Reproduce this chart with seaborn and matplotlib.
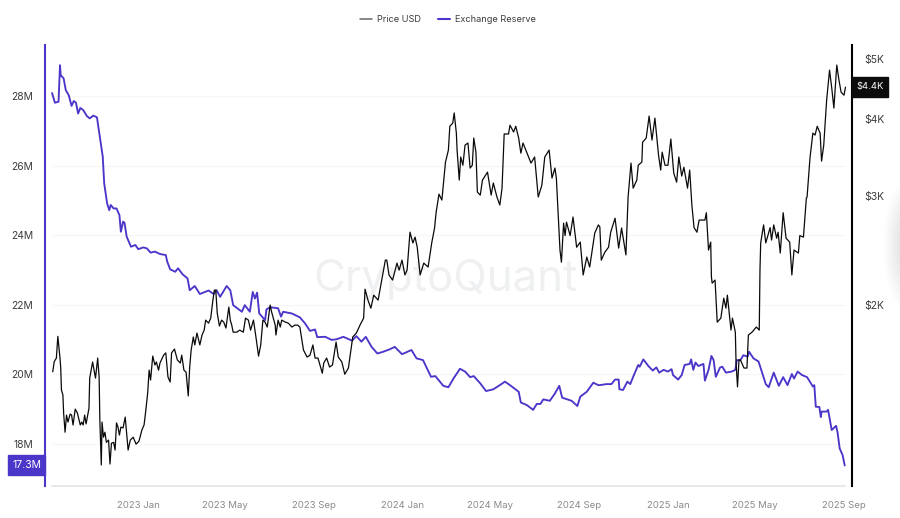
# Exchange reserve vs price chart
import matplotlib
matplotlib.use("Agg")
import matplotlib.pyplot as plt
import matplotlib.dates as mdates
from matplotlib.lines import Line2D
from matplotlib.patches import Ellipse, Rectangle
from matplotlib.ticker import NullLocator
import pandas as pd
import seaborn as sns

# days counted from this date
start_date = "2022-09-04"

price_days = [1, 3, 6, 8, 11, 12, 13, 15, 16, 18, 20, 22, 25, 27, 29, 32, 35, 39, 41, 43, 45, 47, 51, 52, 56, 60, 63, 65, 66, 68, 69,
              71, 73, 75, 78, 80, 82, 85, 87, 89, 91, 93, 95, 98, 101, 105, 108, 112, 116, 120, 124, 127, 129, 132, 134, 136, 139,
              142, 144, 147, 149, 154, 157, 160, 163, 165, 169, 173, 177, 179, 182, 185, 188, 190, 192, 195, 197, 200, 204, 207,
              210, 212, 216, 219, 222, 224, 226, 228, 231, 234, 237, 240, 242, 244, 246, 248, 250, 255, 259, 264, 267, 271, 274,
              278, 282, 285, 288, 291, 294, 297, 301, 303, 308, 309, 312, 315, 317, 322, 326, 331, 335, 339, 342, 347, 349, 352,
              356, 360, 363, 367, 373, 375, 379, 383, 387, 392, 395, 400, 404, 409, 412, 415, 420, 425, 430, 432, 436, 440, 444,
              450, 455, 460, 462, 465, 470, 476, 479, 483, 487, 490, 494, 498, 501, 504, 508, 513, 519, 524, 528, 530, 534, 538,
              543, 547, 549, 553, 555, 558, 559, 562, 564, 567, 570, 574, 577, 580, 582, 585, 587, 591, 594, 601, 606, 609, 614,
              618, 621, 624, 630, 632, 637, 640, 644, 647, 650, 655, 661, 666, 671, 676, 680, 686, 690, 694, 696, 701, 703, 706,
              708, 710, 715, 719, 724, 729, 733, 738, 742, 749, 754, 756, 758, 763, 768, 771, 777, 782, 786, 792, 795, 799, 802,
              807, 809, 814, 815, 820, 824, 828, 832, 837, 840, 842, 846, 850, 854, 858, 862, 865, 869, 872, 877, 880, 883, 886,
              890, 893, 901, 903, 906, 909, 910, 911, 915, 918, 923, 927, 930, 932, 937, 939, 943, 944, 946, 948, 950, 955, 959,
              961, 966, 972, 976, 977, 978, 982, 985, 991, 993, 996, 1000, 1002, 1005, 1009, 1013, 1018, 1021, 1024, 1030, 1032,
              1037, 1041, 1042, 1046, 1050, 1053, 1056, 1060, 1062, 1065, 1069, 1073, 1076, 1079, 1083, 1086, 1089, 1093, 1095]
price_usd = [1560, 1620, 1642, 1780, 1642, 1582, 1458, 1431, 1338, 1246, 1328, 1294, 1333, 1328, 1280, 1358, 1338, 1280, 1294, 1280,
             1328, 1285, 1363, 1524, 1618, 1524, 1642, 1530, 1304, 1103, 1294, 1223, 1246, 1200, 1210, 1107, 1196, 1200, 1166, 1290,
             1270, 1233, 1270, 1266, 1318, 1166, 1210, 1223, 1192, 1205, 1256, 1280, 1338, 1442, 1570, 1513, 1654, 1600, 1618, 1570,
             1612, 1660, 1674, 1530, 1502, 1674, 1698, 1630, 1612, 1660, 1570, 1558, 1426, 1588, 1692, 1776, 1724, 1802, 1724, 1789,
             1822, 1891, 1870, 1905, 2037, 2114, 2114, 1941, 1850, 1891, 1877, 1836, 1912, 1985, 1891, 1856, 1808, 1808, 1822, 1808,
             1905, 1891, 1822, 1891, 1756, 1654, 1724, 1891, 1877, 1843, 2000, 1950, 1856, 1789, 1891, 1843, 1891, 1877, 1870, 1843,
             1856, 1856, 1843, 1692, 1674, 1648, 1660, 1724, 1642, 1642, 1552, 1612, 1642, 1588, 1600, 1743, 1648, 1618, 1546, 1582,
             1674, 1776, 1802, 1856, 1905, 2122, 2037, 1977, 2075, 2037, 2195, 2364, 2364, 2237, 2195, 2338, 2278, 2364, 2237, 2278,
             2623, 2520, 2575, 2480, 2237, 2338, 2304, 2520, 2668, 2820, 3022, 2956, 3405, 3560, 3890, 3936, 4088, 3792, 3560, 3184,
             3470, 3365, 3627, 3655, 3330, 3365, 3723, 3533, 3045, 3011, 3184, 3280, 3011, 3150, 2990, 2902, 3090, 3780, 3780, 3905,
             3808, 3890, 3723, 3520, 3655, 3533, 3392, 3470, 2990, 3125, 3470, 3560, 3208, 3330, 3208, 2454, 2346, 2713, 2590, 2723,
             2590, 2775, 2480, 2528, 2237, 2391, 2304, 2615, 2695, 2675, 2364, 2436, 2480, 2623, 2763, 2472, 2664, 2410, 2990, 3392,
             3090, 3184, 3365, 3405, 3666, 3723, 4040, 3695, 4010, 3495, 3305, 3533, 3365, 3365, 3710, 3268, 3160, 3470, 3232, 3340,
             3090, 3305, 2902, 2668, 2623, 2744, 2744, 2820, 2454, 2528, 2220, 2170, 2195, 1877, 1905, 2052, 1977, 2075, 1822, 1905,
             1808, 1612, 1475, 1630, 1630, 1582, 1582, 1789, 1808, 1843, 1822, 2278, 2520, 2695, 2520, 2668, 2547, 2695, 2565, 2623,
             2427, 2820, 2565, 2528, 2237, 2454, 2427, 2590, 2575, 2978, 2990, 3456, 3792, 3765, 3890, 3792, 3417, 3627, 4288, 4794,
             4490, 4163, 4885, 4619, 4415, 4368, 4500]

reserve_days = [0, 4, 9, 11, 12, 16, 19, 23, 27, 30, 33, 36, 39, 43, 48, 52, 57, 62, 66, 70, 72, 76, 79, 81, 85, 89, 93, 95, 98, 100,
                103, 109, 115, 119, 126, 131, 136, 142, 149, 157, 159, 163, 170, 174, 180, 187, 190, 197, 204, 216, 223, 227, 232,
                241, 246, 250, 262, 266, 273, 277, 280, 283, 286, 294, 296, 301, 312, 316, 319, 331, 340, 342, 349, 356, 363, 366,
                377, 386, 393, 402, 414, 420, 427, 433, 441, 449, 457, 466, 473, 483, 496, 503, 512, 523, 529, 540, 547, 554, 563,
                570, 577, 582, 591, 599, 609, 618, 625, 632, 644, 647, 655, 664, 669, 674, 678, 687, 694, 700, 704, 717, 725, 729,
                738, 747, 754, 756, 765, 772, 777, 782, 783, 788, 794, 798, 802, 809, 811, 816, 823, 829, 834, 838, 844, 850, 855,
                857, 864, 869, 873, 880, 882, 885, 888, 892, 899, 901, 906, 910, 913, 916, 922, 925, 930, 938, 943, 945, 950, 954,
                960, 962, 968, 975, 981, 985, 989, 996, 1003, 1009, 1015, 1021, 1024, 1029, 1035, 1042, 1050, 1052, 1054, 1059,
                1061, 1062, 1069, 1071, 1076, 1082, 1084, 1087, 1091, 1094]
reserve_m = [28.09, 27.81, 27.84, 28.89, 28.60, 28.51, 28.17, 28.03, 27.72, 27.86, 27.81, 27.50, 27.66, 27.60, 27.43, 27.36, 27.44,
             27.39, 26.83, 26.26, 25.49, 24.92, 24.72, 24.87, 24.77, 24.77, 24.58, 24.10, 24.39, 24.36, 23.96, 23.67, 23.72, 23.60,
             23.65, 23.62, 23.50, 23.53, 23.46, 23.43, 23.24, 23.02, 22.95, 23.05, 22.88, 22.76, 22.42, 22.54, 22.31, 22.41, 22.31,
             22.42, 22.23, 22.54, 22.42, 21.99, 21.80, 21.99, 21.80, 22.37, 22.18, 22.35, 21.75, 21.56, 21.87, 21.93, 21.90, 21.66,
             21.80, 21.75, 21.66, 21.64, 21.47, 21.25, 21.29, 21.07, 21.08, 20.99, 21.01, 21.08, 20.97, 21.10, 20.94, 21.08, 20.79,
             20.60, 20.65, 20.72, 20.79, 20.58, 20.70, 20.46, 20.41, 19.93, 19.95, 19.67, 19.63, 19.88, 20.16, 20.08, 19.92, 19.95,
             19.74, 19.52, 19.57, 19.69, 19.79, 19.69, 19.50, 19.19, 19.12, 18.98, 19.15, 19.15, 19.28, 19.24, 19.45, 19.67, 19.33,
             19.24, 19.09, 19.36, 19.50, 19.76, 19.69, 19.69, 19.72, 19.72, 19.85, 19.85, 19.57, 19.55, 19.79, 19.72, 19.93, 20.27,
             20.22, 20.43, 20.24, 20.11, 20.20, 20.05, 20.13, 20.08, 20.15, 19.98, 19.85, 19.98, 20.27, 20.30, 20.43, 20.13, 20.34,
             20.24, 20.30, 19.82, 20.13, 20.53, 20.41, 19.93, 20.20, 20.22, 20.05, 20.08, 20.13, 20.41, 20.41, 20.55, 20.51, 20.65,
             20.46, 20.37, 19.98, 19.72, 19.63, 20.05, 19.67, 19.92, 19.69, 20.01, 19.88, 20.08, 19.98, 19.92, 19.65, 19.69, 19.07,
             19.06, 18.77, 18.93, 18.93, 18.98, 18.40, 18.52, 18.34, 17.87, 17.68, 17.38]

reserve_ticks = [18, 20, 22, 24, 26, 28]
reserve_labels = ["18M", "20M", "22M", "24M", "26M", "28M"]
price_ticks = [2000, 3000, 4000, 5000]
price_labels = ["$2K", "$3K", "$4K", "$5K"]
date_ticks = ["2023-01-01", "2023-05-01", "2023-09-01", "2024-01-01", "2024-05-01",
              "2024-09-01", "2025-01-01", "2025-05-01", "2025-09-01"]
date_labels = ["2023 Jan", "2023 May", "2023 Sep", "2024 Jan", "2024 May",
               "2024 Sep", "2025 Jan", "2025 May", "2025 Sep"]

PURPLE = "#4a37c9"
BLACK = "#0a0a0a"

sns.set_theme(style="white")
plt.rcParams["font.family"] = ["Inter", "DejaVu Sans"]

origin = pd.Timestamp(start_date)
df_price = pd.DataFrame({"date": origin + pd.to_timedelta(price_days, unit="D"), "price": price_usd})
df_reserve = pd.DataFrame({"date": origin + pd.to_timedelta(reserve_days, unit="D"), "reserve": reserve_m})

fig = plt.figure(figsize=(9, 5.18), dpi=100)
ax = fig.add_axes([45 / 900, 1 - 486 / 518, 807 / 900, 441 / 518])
ax2 = ax.twinx()

# reserve on the left axis, price (log) on the right one, price drawn on top
sns.lineplot(data=df_reserve, x="date", y="reserve", ax=ax, color=PURPLE, linewidth=1.35,
             estimator=None, errorbar=None, legend=False)
sns.lineplot(data=df_price, x="date", y="price", ax=ax2, color=BLACK, linewidth=0.9,
             estimator=None, errorbar=None, legend=False)

ax.set_xlim(origin - pd.Timedelta(days=9.7), origin + pd.Timedelta(days=1104))
ax.set_ylim(16.79, 29.47)
ax2.set_yscale("log")
ax2.set_ylim(1020, 5264)

ax.set_xlabel("")
ax.set_ylabel("")
ax2.set_xlabel("")
ax2.set_ylabel("")

# faint horizontal guides, they stop short of both spines
ax.hlines(reserve_ticks, origin, origin + pd.Timedelta(days=1095), color="#f6f6f6", linewidth=0.9, zorder=0)

ax.set_yticks(reserve_ticks, reserve_labels)
ax.tick_params(axis="y", length=0, pad=8.5, labelsize=7.4, labelcolor="#3c3c3c")
ax2.set_yticks(price_ticks, price_labels)
ax2.yaxis.set_minor_locator(NullLocator())
ax2.tick_params(axis="y", length=0, pad=9.2, labelsize=7.5, labelcolor="#3c3c3c")

ax.set_xticks(mdates.date2num(pd.to_datetime(date_ticks)), date_labels)
ax.tick_params(axis="x", length=5, width=0.8, color="#dddddd", pad=6, labelsize=6.9, labelcolor="#8a8a8a")

for a in (ax, ax2):
    for s in a.spines.values():
        s.set_visible(False)
ax.spines["left"].set_visible(True)
ax.spines["left"].set_color(PURPLE)
ax.spines["left"].set_linewidth(1.5)
ax.spines["bottom"].set_visible(True)
ax.spines["bottom"].set_color("#e4e4e4")
ax.spines["bottom"].set_linewidth(1.2)
ax.spines["bottom"].set_bounds(mdates.date2num(origin), mdates.date2num(origin + pd.Timedelta(days=1095)))
ax2.spines["right"].set_visible(True)
ax2.spines["right"].set_color("black")
ax2.spines["right"].set_linewidth(1.5)

# watermark sits under the lines
ax.text(445 / 900, 1 - 279 / 518, "CryptoQuant", transform=fig.transFigure, fontsize=31.5, color="#eff0f2",
        ha="center", va="center", zorder=0.5)

# current value badges
fig.add_artist(Rectangle((8 / 900, 1 - 475 / 518), 37 / 900, 20 / 518, transform=fig.transFigure, color=PURPLE))
fig.text(27 / 900, 1 - 465 / 518, "17.3M", fontsize=7.5, color="white", ha="center", va="center")
fig.add_artist(Rectangle((852 / 900, 1 - 97 / 518), 36 / 900, 20 / 518, transform=fig.transFigure, color="#0c0c0c"))
fig.text(870 / 900, 1 - 87 / 518, "$4.4K", fontsize=6.8, color="white", ha="center", va="center")

# soft grey shadow coming in from the right edge
for i in range(12):
    rx = 5 + i * 1.3
    ry = 22 + i * 3.6
    fig.add_artist(Ellipse((903 / 900, 1 - 245 / 518), 2 * rx / 900, 2 * ry / 518, transform=fig.transFigure,
                           color="#808080", alpha=0.012, linewidth=0))

handles = [Line2D([], [], color="#666666", linewidth=1.1), Line2D([], [], color=PURPLE, linewidth=1.5)]
fig.legend(handles, ["Price USD", "Exchange Reserve"], loc="center", bbox_to_anchor=(448 / 900, 1 - 19.5 / 518),
           ncol=2, frameon=False, fontsize=6.6, labelcolor="#3c3c3c", handlelength=1.3, handletextpad=0.55,
           columnspacing=1.85)

fig.savefig("out.png", dpi=100)
